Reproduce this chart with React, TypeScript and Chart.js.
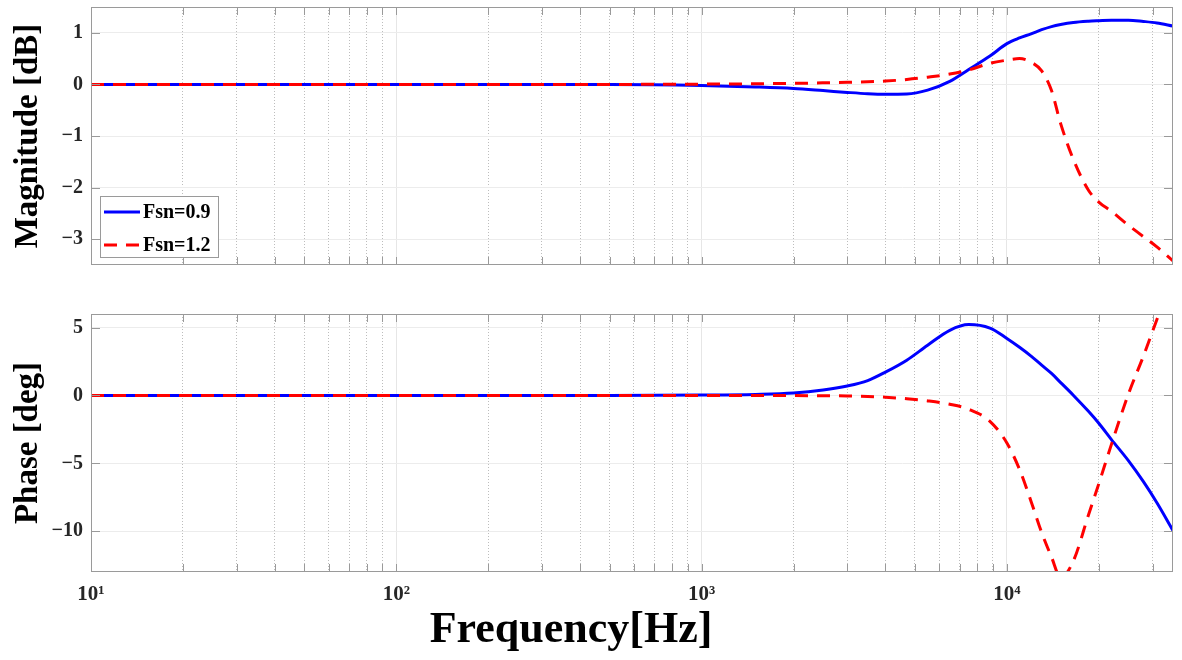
import React, { useEffect, useRef } from 'react';
import Chart from 'chart.js/auto';

// --- Bode data ---
const freqHz = [
  10, 20, 50, 100, 200, 500,
  1000, 1500, 2000, 2500, 3000, 3500, 4000, 4700, 5500, 6500, 7500, 8800,
  10000, 11000, 12000, 13000, 14000, 15000, 16500, 18500, 20000, 22000, 25000, 28000, 31000, 35000,
];

// magnitude [dB]
const magFsn09 = [
  0, 0, 0, 0, 0, 0,
  -0.02, -0.05, -0.08, -0.12, -0.155, -0.18, -0.19, -0.185, -0.11, 0.06, 0.29, 0.55,
  0.79, 0.9, 0.98, 1.06, 1.12, 1.16, 1.2, 1.225, 1.235, 1.245, 1.245, 1.22, 1.19, 1.13,
];
const magFsn12 = [
  0, 0, 0, 0, 0, 0,
  0.005, 0.012, 0.02, 0.03, 0.04, 0.05, 0.065, 0.095, 0.14, 0.2, 0.28, 0.41,
  0.47, 0.5, 0.43, 0.26, -0.12, -0.76, -1.45, -2.05, -2.28, -2.46, -2.73, -2.95, -3.15, -3.42,
];

// phase [deg]
const phaseFsn09 = [
  0, 0, 0, 0, 0, 0,
  0.03, 0.08, 0.18, 0.4, 0.7, 1.1, 1.72, 2.6, 3.7, 4.8, 5.22, 4.96,
  4.2, 3.55, 2.9, 2.23, 1.62, 0.95, 0.02, -1.17, -2.05, -3.25, -4.8, -6.35, -7.9, -9.95,
];
const phaseFsn12 = [
  0, 0, 0, 0, 0, 0,
  0, 0, -0.01, -0.02, -0.03, -0.07, -0.13, -0.24, -0.4, -0.65, -1.02, -1.9,
  -3.5, -5.45, -7.8, -10.1, -11.9, -13.4, -12.2, -8.8, -6.5, -3.6, 0.1, 2.9, 5.6, 8.7,
];

// axes
const X_MIN = 10;
const X_MAX = 35000;
const decadeTicks = [10, 100, 1000, 10000];
const decadeLabels = ['10\u00B9', '10\u00B2', '10\u00B3', '10\u2074'];
const minorTicks = [
  20, 30, 40, 50, 60, 70, 80, 90,
  200, 300, 400, 500, 600, 700, 800, 900,
  2000, 3000, 4000, 5000, 6000, 7000, 8000, 9000,
  20000, 30000,
];
const magTicks = [-3, -2, -1, 0, 1];
const phaseTicks = [-10, -5, 0, 5];

const serif = "'Liberation Serif', 'Times New Roman', serif";
const FRAME = '#9a9a9a';

const toXY = (ys: number[]) => freqHz.map((f, i) => ({ x: f, y: ys[i] }));

const makeDatasets = (blue: number[], red: number[]) => [
  {
    label: 'Fsn=0.9',
    data: toXY(blue),
    borderColor: '#0000ff',
    borderWidth: 3,
    pointRadius: 0,
    cubicInterpolationMode: 'monotone',
    order: 1,
  },
  {
    label: 'Fsn=1.2',
    data: toXY(red),
    borderColor: '#ff0000',
    borderWidth: 3,
    borderDash: [13, 9],
    pointRadius: 0,
    cubicInterpolationMode: 'monotone',
    order: 0,
  },
];

// box + inward ticks, like a matlab axes
const frameTicks = {
  id: 'frameTicks',
  afterDraw(chart: any) {
    const { ctx, chartArea, scales } = chart;
    const { left, right, top, bottom } = chartArea;
    ctx.save();
    ctx.strokeStyle = FRAME;
    ctx.lineWidth = 1;
    ctx.beginPath();
    ['x', 'xMinor'].forEach((id) => {
      const s = scales[id];
      s.ticks.forEach((t: any) => {
        const px = Math.round(s.getPixelForValue(t.value)) + 0.5;
        ctx.moveTo(px, bottom);
        ctx.lineTo(px, bottom - 8);
        ctx.moveTo(px, top);
        ctx.lineTo(px, top + 8);
      });
    });
    const ys = scales.y;
    ys.ticks.forEach((t: any) => {
      const py = Math.round(ys.getPixelForValue(t.value)) + 0.5;
      ctx.moveTo(left, py);
      ctx.lineTo(left + 9, py);
      ctx.moveTo(right, py);
      ctx.lineTo(right - 9, py);
    });
    ctx.stroke();
    ctx.strokeRect(Math.round(left) + 0.5, Math.round(top) + 0.5, Math.round(right - left) - 1, Math.round(bottom - top) - 1);
    ctx.restore();
  },
};

// legend box in the lower left corner of the magnitude axes
const legendBox = {
  id: 'legendBox',
  afterDraw(chart: any) {
    const { ctx, chartArea } = chart;
    const x0 = Math.round(chartArea.left) + 9;
    const y0 = Math.round(chartArea.bottom) - 69;
    ctx.save();
    ctx.fillStyle = '#ffffff';
    ctx.fillRect(x0, y0, 118, 61);
    ctx.strokeStyle = FRAME;
    ctx.lineWidth = 1;
    ctx.strokeRect(x0 + 0.5, y0 + 0.5, 118, 61);
    chart.data.datasets.forEach((ds: any, i: number) => {
      const cy = y0 + 16 + i * 33;
      ctx.strokeStyle = ds.borderColor;
      ctx.lineWidth = ds.borderWidth;
      ctx.setLineDash(ds.borderDash || []);
      ctx.beginPath();
      ctx.moveTo(x0 + 4, cy);
      ctx.lineTo(x0 + 40, cy);
      ctx.stroke();
      ctx.setLineDash([]);
      ctx.fillStyle = '#000';
      ctx.font = `bold 20px ${serif}`;
      ctx.textBaseline = 'middle';
      ctx.fillText(ds.label, x0 + 43, cy + 1);
    });
    ctx.restore();
  },
};

// no extra room for half tick labels: the plot box is placed by padding only
const noEdgePadding = (s: any) => {
  s.paddingTop = 0;
  s.paddingBottom = 0;
  s.paddingLeft = 0;
  s.paddingRight = 0;
};

function buildOptions(cfg: any) {
  const minusFmt = (v: any) => (v < 0 ? '\u2212' + Math.abs(v) : String(v));
  return {
    animation: false,
    responsive: true,
    maintainAspectRatio: false,
    layout: { padding: { top: cfg.padTop, right: 9, bottom: cfg.padBottom, left: 0 } },
    plugins: { legend: { display: false }, tooltip: { enabled: false } },
    scales: {
      x: {
        type: 'logarithmic',
        position: 'bottom',
        min: X_MIN,
        max: X_MAX,
        afterBuildTicks: (s: any) => {
          s.ticks = decadeTicks.map((v) => ({ value: v }));
        },
        afterFit: (s: any) => {
          s.height = cfg.xHeight;
          noEdgePadding(s);
        },
        grid: { color: '#e6e6e6', lineWidth: 1, drawTicks: false },
        border: { display: false },
        ticks: {
          display: cfg.showX,
          autoSkip: false,
          maxRotation: 0,
          padding: 10,
          color: '#262626',
          font: { family: serif, size: 21, weight: 'bold' },
          callback: (_v: any, i: number) => decadeLabels[i],
        },
      },
      xMinor: {
        type: 'logarithmic',
        position: 'bottom',
        min: X_MIN,
        max: X_MAX,
        afterBuildTicks: (s: any) => {
          s.ticks = minorTicks.map((v) => ({ value: v }));
        },
        afterFit: (s: any) => {
          s.height = 0;
          noEdgePadding(s);
        },
        grid: { color: '#bdbdbd', lineWidth: 1, drawTicks: false },
        border: { display: false, dash: [1, 2] },
        ticks: { display: false },
      },
      y: {
        type: 'linear',
        min: cfg.yMin,
        max: cfg.yMax,
        afterBuildTicks: (s: any) => {
          s.ticks = cfg.yTicks.map((v: number) => ({ value: v }));
        },
        afterFit: (s: any) => {
          s.width = 91;
          noEdgePadding(s);
        },
        grid: { color: '#ececec', lineWidth: 1, drawTicks: false },
        border: { display: false },
        ticks: {
          padding: 8,
          color: '#262626',
          font: { family: serif, size: 20, weight: 'bold' },
          callback: minusFmt,
        },
        title: {
          display: true,
          text: cfg.yTitle,
          color: '#000',
          font: { family: serif, size: 33, weight: 'bold' },
          padding: { top: 9, bottom: 0 },
        },
      },
    },
  };
}

export default function App() {
  const magRef = useRef<HTMLCanvasElement>(null);
  const phaseRef = useRef<HTMLCanvasElement>(null);

  useEffect(() => {
    if (!magRef.current || !phaseRef.current) return;

    const magChart = new Chart(magRef.current, {
      type: 'line',
      data: { datasets: makeDatasets(magFsn09, magFsn12) as any },
      options: buildOptions({
        padTop: 7, padBottom: 7, xHeight: 0, showX: false,
        yMin: -3.5, yMax: 1.5, yTicks: magTicks, yTitle: 'Magnitude [dB]',
      }) as any,
      plugins: [frameTicks, legendBox],
    });

    const phaseChart = new Chart(phaseRef.current, {
      type: 'line',
      data: { datasets: makeDatasets(phaseFsn09, phaseFsn12) as any },
      options: buildOptions({
        padTop: 14, padBottom: 0, xHeight: 88, showX: true,
        yMin: -13, yMax: 6, yTicks: phaseTicks, yTitle: 'Phase [deg]',
      }) as any,
      plugins: [frameTicks],
    });

    return () => {
      magChart.destroy();
      phaseChart.destroy();
    };
  }, []);

  return (
    <div style={{ position: 'fixed', left: 0, top: 0, width: 1182, height: 660, background: '#fff', overflow: 'hidden' }}>
      <div style={{ position: 'absolute', left: 0, top: 0, width: 1182, height: 272 }}>
        <canvas ref={magRef} />
      </div>
      <div style={{ position: 'absolute', left: 0, top: 300, width: 1182, height: 360 }}>
        <canvas ref={phaseRef} />
      </div>
      <div
        style={{
          position: 'absolute', left: 371, top: 602, width: 400, textAlign: 'center',
          font: `bold 44px ${serif}`, color: '#000', whiteSpace: 'nowrap',
        }}
      >
        Frequency[Hz]
      </div>
    </div>
  );
}
